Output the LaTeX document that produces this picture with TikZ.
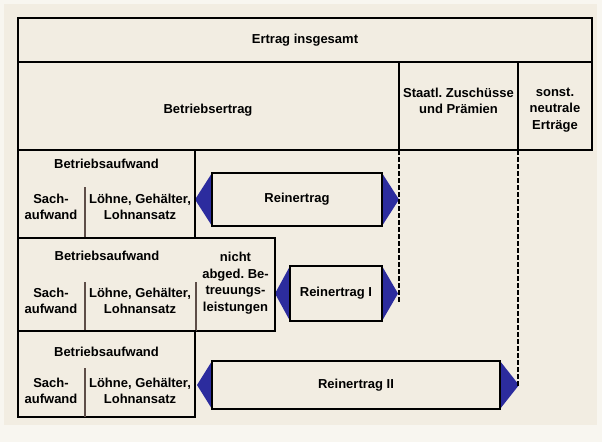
\documentclass[tikz,border=0pt]{standalone}
\usepackage{fontspec}
\setmainfont{Liberation Sans}
\frenchspacing
\usetikzlibrary{calc,backgrounds}
\definecolor{cream}{HTML}{F2EDE2}
\definecolor{rim}{HTML}{F8F6F0}
\definecolor{headblue}{HTML}{2C2C9E}
\definecolor{divgray}{HTML}{5E4E48}
\tikzset{
  cellbox/.style={draw=black,line width=2.6pt,inner sep=0pt,outer sep=0pt,
                  anchor=north west},
  lbl/.style={font=\bfseries\fontsize{13}{16.5}\selectfont,align=center,
              inner sep=0pt},
  divline/.style={draw=divgray,line width=1.1pt},
  sepline/.style={draw=black,line width=2.1pt,dash pattern=on 4.5pt off 2.5pt},
  head/.style={fill=headblue}
}
\begin{document}
\begin{tikzpicture}[x=1pt,y=-1pt]
  \useasboundingbox (0,0) rectangle (602,442);
  % upper rows
  \node[cellbox,minimum width=574pt,minimum height=44pt] (ges) at (18,18) {};
  \node[cellbox,minimum width=381pt,minimum height=88pt] (betr) at (18,62) {};
  \node[cellbox,minimum width=119pt,minimum height=88pt] (staat) at (399,62) {};
  \node[cellbox,minimum width=74pt,minimum height=88pt] (sonst) at (518,62) {};
  \node[lbl] (tges) at (305,40) {Ertrag insgesamt};
  \node[lbl] (tbetr) at (208,110) {Betriebsertrag};
  \node[lbl] (tstaat) at (458.5,101) {Staatl. Zuschüsse\\und Prämien};
  \node[lbl] (tsonst) at (555,110) {sonst.\\neutrale\\Erträge};
  % dashed continuations
  \draw[sepline] (staat.south west) -- ++(0,152);
  \draw[sepline] (sonst.south west) -- ++(0,237);
  % block 1
  \node[cellbox,minimum width=177pt,minimum height=88pt] (auf1) at (18,150) {};
  \draw[divline] (85,187) -- (auf1.south west -| 85,0);
  \node[lbl] (ba1) at (106.5,164) {Betriebsaufwand};
  \node[lbl] (sa1) at (51,207) {Sach-\\aufwand};
  \node[lbl] (lo1) at (140,207) {Löhne, Gehälter,\\Lohnansatz};
  \node[cellbox,minimum width=170pt,minimum height=53pt,lbl] (rein) at (212,173) {Reinertrag};
  % block 2
  \node[cellbox,minimum width=257pt,minimum height=93pt] (auf2) at (18,238) {};
  \draw[divline] (85,282) -- (auf2.south west -| 85,0);
  \draw[divline] (196,282) -- (auf2.south west -| 196,0);
  \node[lbl] (ba2) at (107,256) {Betriebsaufwand};
  \node[lbl] (sa2) at (51,301) {Sach-\\aufwand};
  \node[lbl] (lo2) at (140,301) {Löhne, Gehälter,\\Lohnansatz};
  \node[lbl] (nab) at (235.5,283) {nicht\\abged. Be-\\treuungs-\\leistungen};
  \node[cellbox,minimum width=92pt,minimum height=55pt,lbl] (reinI) at (290,266) {Reinertrag I};
  % block 3
  \node[cellbox,minimum width=177pt,minimum height=86pt] (auf3) at (18,331) {};
  \draw[divline] (85,368) -- (auf3.south west -| 85,0);
  \node[lbl] (ba3) at (106.5,352) {Betriebsaufwand};
  \node[lbl] (sa3) at (51,391) {Sach-\\aufwand};
  \node[lbl] (lo3) at (140,391) {Löhne, Gehälter,\\Lohnansatz};
  \node[cellbox,minimum width=288pt,minimum height=48pt,lbl] (reinII) at (212,361) {Reinertrag II};
  % ground and arrow heads
  \begin{scope}[on background layer]
    \fill[rim] (0,0) rectangle (602,442);
    \fill[cream] (4,4) rectangle (597,425);
    \foreach \r/\l/\rr in {rein/17/17,reinI/15/16,reinII/15/19}{
      \fill[head] (\r.north west) -- ($(\r.west)+(-\l,0)$) -- (\r.south west) -- cycle;
      \fill[head] (\r.north east) -- ($(\r.east)+(\rr,0)$) -- (\r.south east) -- cycle;
    }
  \end{scope}
\end{tikzpicture}
\end{document}
